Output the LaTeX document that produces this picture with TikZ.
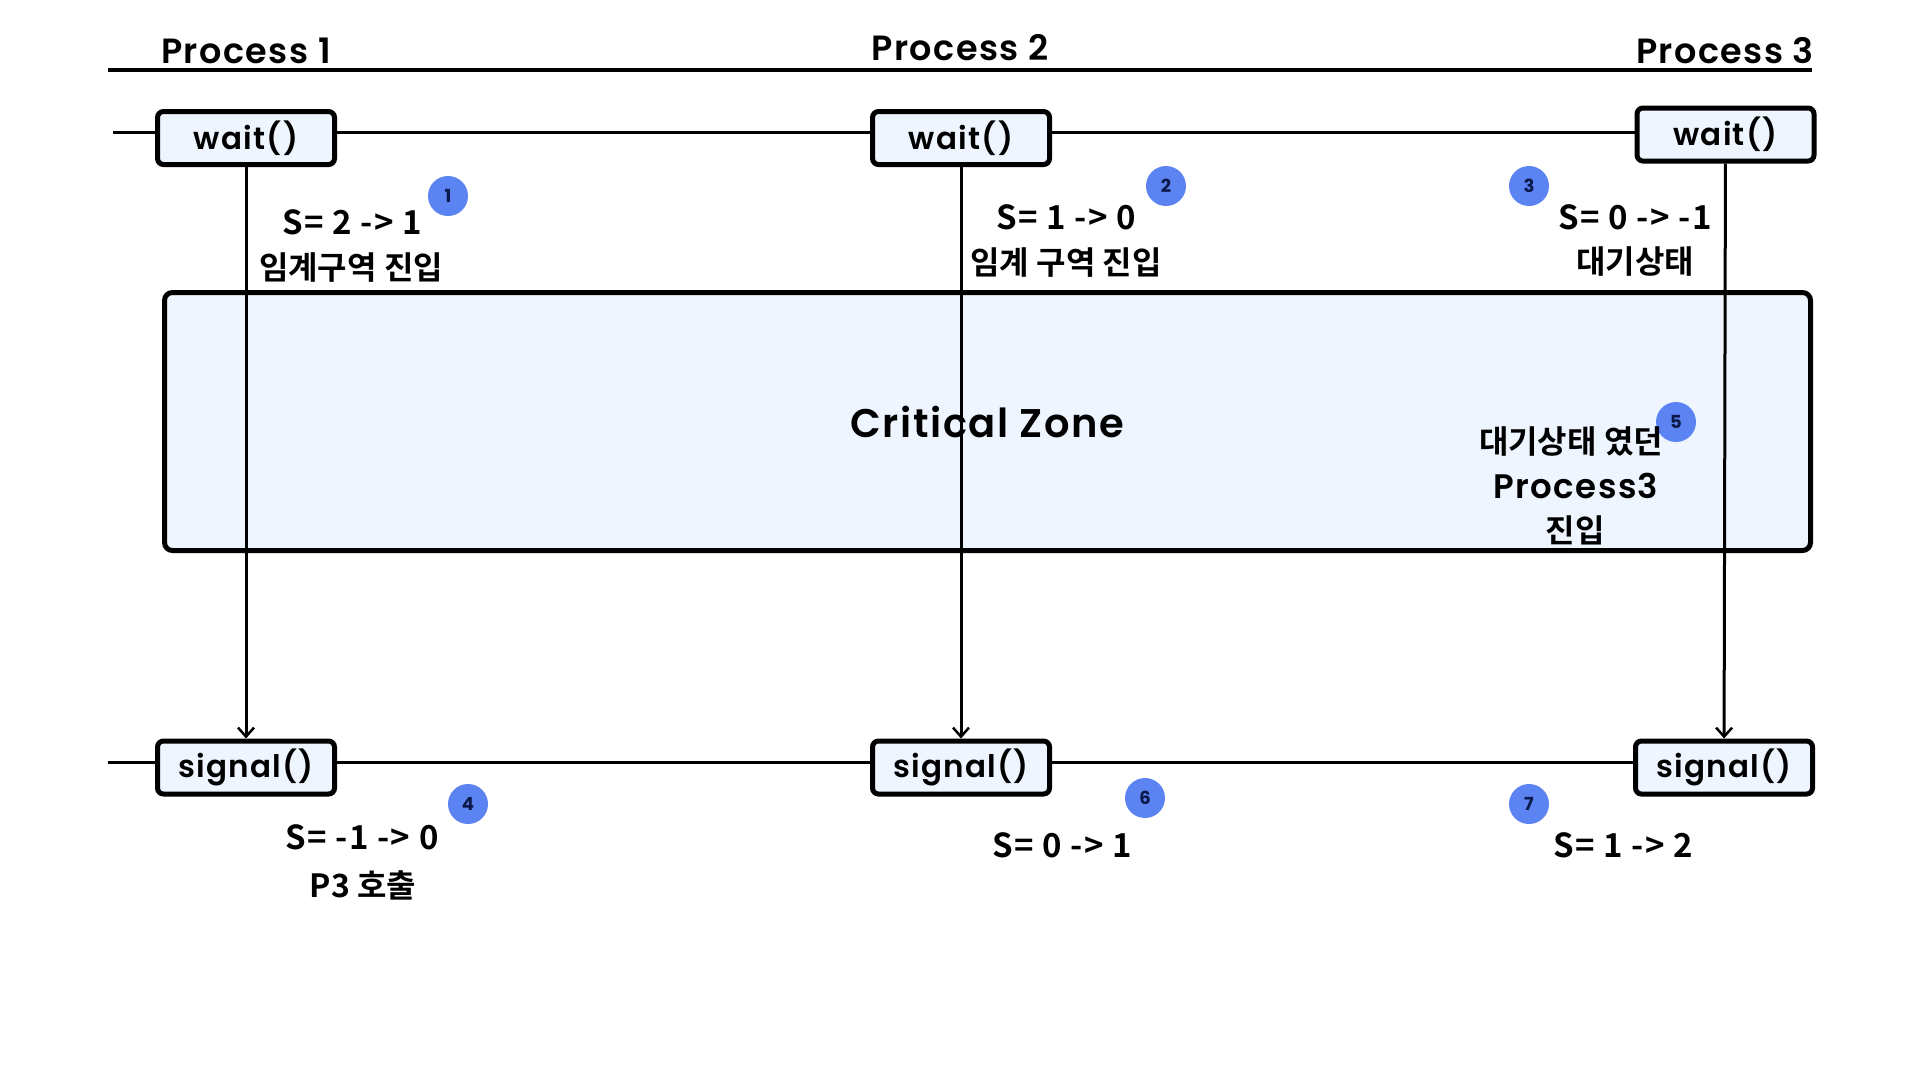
\documentclass[tikz,border=0pt]{standalone}
\usepackage{fontspec}
\setmainfont{Poppins}[UprightFont=* SemiBold, BoldFont=* Bold, LetterSpace=4]
\newfontfamily\kr{Noto Sans CJK KR}[UprightFont=* Bold]
\newfontfamily\krs{Noto Sans CJK KR}[UprightFont=* Bold, LetterSpace=4]
\usetikzlibrary{arrows.meta}
\definecolor{boxfill}{HTML}{EEF5FF}
\definecolor{badgefill}{HTML}{5B83F2}
\definecolor{badgetxt}{HTML}{0B1A4A}
\begin{document}
\begin{tikzpicture}[x=1pt,y=-1pt,
  call/.style={draw, line width=5pt, rounded corners=6pt, fill=boxfill,
    minimum width=177pt, minimum height=53pt, inner sep=0pt,
    font=\fontsize{31}{36}\selectfont},
  zonebox/.style={draw, line width=5pt, rounded corners=8pt, fill=boxfill,
    minimum width=1646pt, minimum height=258pt, inner sep=0pt,
    font=\fontsize{40}{46}\selectfont},
  badge/.style={circle, fill=badgefill, minimum size=40pt, inner sep=0pt,
    text=badgetxt, font=\fontsize{18}{19}\bfseries},
  title/.style={inner sep=0pt, font=\fontsize{35}{40}\selectfont},
  sval/.style={inner sep=0pt, font=\fontsize{33}{36}\krs},
  kor/.style={inner sep=0pt, align=center, font=\fontsize{32}{37}\kr},
  tline/.style={line width=3pt},
  flow/.style={line width=3pt, -{Straight Barb[length=9pt,width=16pt,line width=2.5pt]}}
]
\useasboundingbox (0,0) rectangle (1920,1080);

% titles and top rule
\node[title] (p1) at (246,51) {Process 1};
\node[title] (p2) at (960,48) {Process 2};
\node[title] (p3) at (1725,51) {Process 3};
\coordinate (r1) at (108,70);
\coordinate (r2) at (1812,70);
\draw[line width=4pt] (r1) -- (r2);

% timelines
\coordinate (wl) at (113,132);
\coordinate (wr) at (1635,132);
\draw[tline] (wl) -- (wr);
\coordinate (sl) at (108,762);
\coordinate (sr) at (1634,762);
\draw[tline] (sl) -- (sr);

% critical zone
\node[zonebox] (zone) at (987.5,421.5) {Critical Zone};

% calls
\node[call] (w1) at (246,138) {wait()};
\node[call] (w2) at (961,138) {wait()};
\node[call] (w3) at (1725.5,134.5) {wait()};
\node[call] (s1) at (246,767.5) {signal()};
\node[call] (s2) at (961,767.5) {signal()};
\node[call] (s3) at (1724,767.5) {signal()};

\draw[flow] (w1) -- (s1);
\draw[flow] (w2) -- (s2);
\draw[flow] (w3) -- (s3);

% badges
\node[badge] (b1) at (448,196) {1};
\node[badge] (b2) at (1166,186) {2};
\node[badge] (b3) at (1529,186) {3};
\node[badge] (b4) at (468,804) {4};
\node[badge] (b5) at (1676,422) {5};
\node[badge] (b6) at (1145,798) {6};
\node[badge] (b7) at (1529,804) {7};

% annotations
\node[sval] (t1) at (352,222) {S= 2 -> 1};
\node[kor] (k1) at (351,268) {임계구역 진입};
\node[sval] (t2) at (1066,217) {S= 1 -> 0};
\node[kor] (k2) at (1066,263) {임계 구역 진입};
\node[sval] (t3) at (1635,217) {S= 0 -> -1};
\node[kor] (k3) at (1635,262) {대기상태};
\node[kor] (k5a) at (1571,442) {대기상태 였던};
\node[inner sep=0pt, font=\fontsize{34}{38}\selectfont] (k5b) at (1576,486) {Process3};
\node[kor] (k5c) at (1575,530) {진입};
\node[sval] (t4) at (362,837) {S= -1 -> 0};
\node[kor] (k4) at (363,885) {P3 호출};
\node[sval] (t6) at (1062,845) {S= 0 -> 1};
\node[sval] (t7) at (1623,845) {S= 1 -> 2};
\end{tikzpicture}
\end{document}
